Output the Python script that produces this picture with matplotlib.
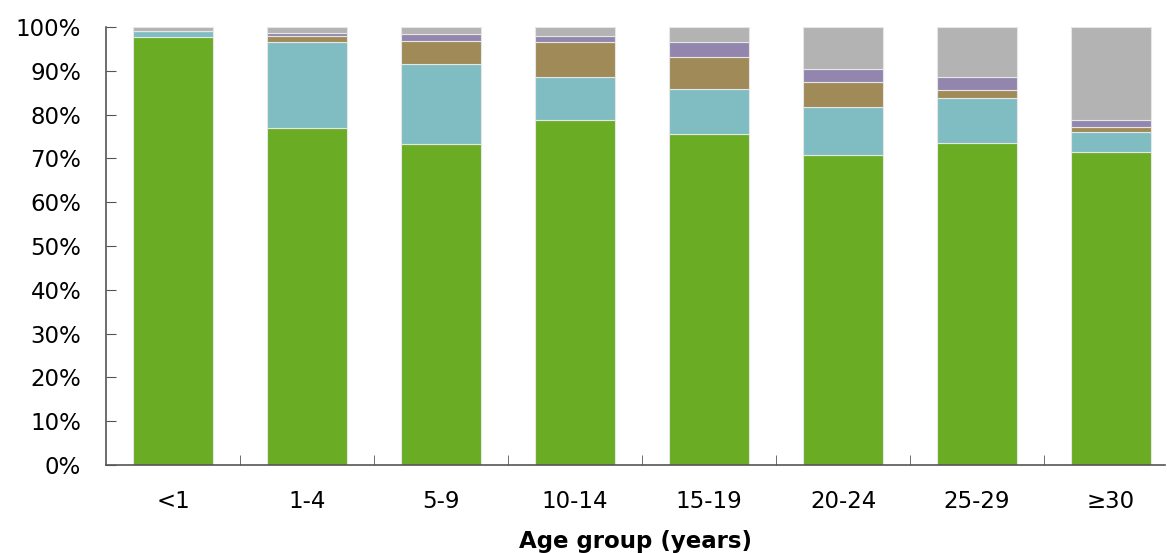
import matplotlib
matplotlib.use("Agg")
import matplotlib.pyplot as plt
import numpy as np
from matplotlib.ticker import FuncFormatter, MultipleLocator

age_groups = ["<1", "1-4", "5-9", "10-14", "15-19", "20-24", "25-29", "≥30"]

# shares in percent, bottom to top
green = [97.7, 77.0, 73.4, 78.9, 75.7, 70.7, 73.6, 71.4]
cyan = [1.3, 19.7, 18.1, 9.6, 10.2, 11.1, 10.2, 4.6]
brown = [0.1, 1.2, 5.4, 8.1, 7.2, 5.6, 1.8, 1.1]
purple = [0.1, 0.8, 1.6, 1.4, 3.5, 3.0, 2.9, 1.8]
gray = [0.8, 1.3, 1.5, 2.0, 3.4, 9.6, 11.5, 21.1]

series = [green, cyan, brown, purple, gray]
colors = ["#6aac23", "#7fbdc2", "#9f8a58", "#9286ae", "#b3b3b3"]

fig = plt.figure(figsize=(11.67, 5.53), dpi=100)
ax = fig.add_axes([0.091, 0.159, 0.907, 0.792])

x = np.arange(len(age_groups))
bottom = np.zeros(len(age_groups))
for vals, col in zip(series, colors):
    ax.bar(x, vals, width=0.6, bottom=bottom, color=col,
           edgecolor="#e6e6e6", linewidth=0.8)
    bottom += np.array(vals)

ax.set_ylim(0, 100)
ax.set_xlim(-0.5, 7.4)
ax.yaxis.set_major_locator(MultipleLocator(10))
ax.yaxis.set_major_formatter(FuncFormatter(lambda v, p: "%d%%" % v))

# category labels centred, ticks on the boundaries
ax.set_xticks(x)
ax.set_xticklabels(age_groups)
ax.set_xticks(np.arange(0.5, 7.5, 1), minor=True)
ax.tick_params(axis="x", which="major", length=0, pad=18, labelsize=16.5)
ax.tick_params(axis="x", which="minor", direction="in", length=7,
               color="#555555")
ax.tick_params(axis="y", direction="in", length=7, color="#555555",
               labelsize=16.5, pad=18)

for s in ["top", "right"]:
    ax.spines[s].set_visible(False)
for s in ["left", "bottom"]:
    ax.spines[s].set_color("#555555")
    ax.spines[s].set_linewidth(1.2)

ax.set_xlabel("Age group (years)", fontsize=16.5, fontweight="bold",
              labelpad=12)

fig.savefig("out.png", dpi=100)
